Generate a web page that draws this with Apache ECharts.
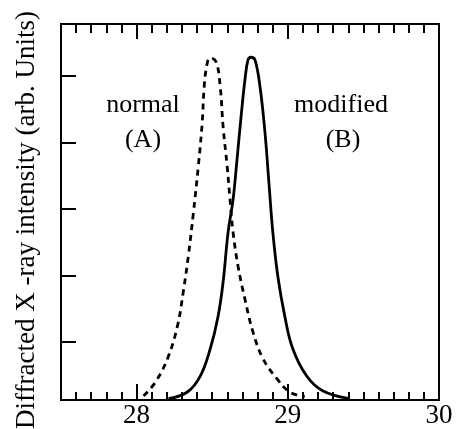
<!DOCTYPE html>
<html>
<head>
<meta charset="utf-8">
<script src="https://cdn.jsdelivr.net/npm/echarts@6/dist/echarts.min.js"></script>
<style>html,body{margin:0;padding:0;background:#fff}#c{width:459px;height:429px}</style>
</head>
<body>
<div id="c"></div>
<script>
// Curve A (normal, dashed): [2theta, intensity]
const normalA = [
  [28.046,0.19],[28.125,0.40],[28.204,0.75],[28.270,1.24],[28.309,1.76],[28.342,2.29],
  [28.375,2.93],[28.408,3.64],[28.434,4.30],[28.447,4.84],[28.467,5.19],[28.487,5.27],
  [28.526,5.21],[28.553,4.84],[28.572,4.24],[28.599,3.64],[28.618,3.14],[28.638,2.65],
  [28.671,2.14],[28.717,1.64],[28.770,1.15],[28.836,0.75],[28.928,0.45],[29.013,0.25],[29.112,0.18]
];
// Curve B (modified, solid)
const modifiedB = [
  [28.211,0.15],[28.336,0.25],[28.421,0.49],[28.487,0.90],[28.539,1.39],[28.572,1.90],
  [28.605,2.65],[28.638,3.14],[28.664,3.74],[28.691,4.39],[28.717,4.95],[28.737,5.24],
  [28.757,5.28],[28.783,5.24],[28.816,4.84],[28.849,4.15],[28.875,3.40],[28.901,2.65],
  [28.934,1.99],[28.980,1.39],[29.033,0.90],[29.125,0.49],[29.230,0.27],[29.408,0.15]
];
const xLabels = [28, 29, 30];
const xMajorTicks = [28, 29];
const xMinorTicks = [27.6,27.7,27.8,27.9,28.1,28.2,28.3,28.4,28.5,28.6,28.7,28.8,28.9,29.1,29.2,29.3,29.4,29.5,29.6,29.7,29.8,29.9];
const yTicks = [1, 2, 3, 4, 5];
const yTitle = 'Diffracted X -ray intensity (arb. Units)';
const annotations = [
  {text: 'normal', x: 143, y: 105},
  {text: '(A)', x: 143, y: 140},
  {text: 'modified', x: 341, y: 105},
  {text: '(B)', x: 343, y: 140}
];

const FONT = '"Liberation Serif", "Times New Roman", serif';
const X_MIN = 27.5, X_MAX = 30, Y_MIN = 0.13, Y_MAX = 5.78;

function xAx(pos, ticks, len, labels) {
  return {
    type: 'value', position: pos, min: X_MIN, max: X_MAX,
    axisLine: {show: labels, lineStyle: {color: '#000', width: 2}},
    axisTick: {show: true, inside: true, length: len, customValues: ticks, lineStyle: {color: '#000', width: 2}},
    axisLabel: labels ? {show: true, customValues: xLabels, color: '#000', fontFamily: FONT, fontSize: 27, margin: 2} : {show: false},
    splitLine: {show: false}
  };
}

const chart = echarts.init(document.getElementById('c'), null, {renderer: 'canvas'});
chart.setOption({
  animation: false,
  backgroundColor: '#fff',
  grid: {left: 61, right: 20, top: 24, bottom: 28, show: true, borderColor: '#000', borderWidth: 2, backgroundColor: 'transparent'},
  xAxis: [
    xAx('bottom', xMinorTicks, 8, true),
    xAx('bottom', xMajorTicks, 16, false),
    xAx('top', xMinorTicks, 9, false),
    xAx('top', xMajorTicks, 15, false)
  ],
  yAxis: {
    type: 'value', min: Y_MIN, max: Y_MAX,
    axisLine: {show: true, lineStyle: {color: '#000', width: 2}},
    axisTick: {show: true, inside: true, length: 15, customValues: yTicks, lineStyle: {color: '#000', width: 2}},
    axisLabel: {show: false},
    splitLine: {show: false}
  },
  series: [
    {type: 'line', name: 'normal (A)', data: normalA, smooth: 0.4, showSymbol: false,
     lineStyle: {color: '#000', width: 2.8, type: [6, 5]}},
    {type: 'line', name: 'modified (B)', data: modifiedB, smooth: 0.4, showSymbol: false,
     lineStyle: {color: '#000', width: 2.8}}
  ],
  graphic: annotations.map(a => ({
    type: 'text', x: a.x, y: a.y,
    style: {text: a.text, fill: '#000', font: '26px ' + FONT, textAlign: 'center', textVerticalAlign: 'middle'}
  })).concat([{
    type: 'text', x: 27, y: 220, rotation: Math.PI / 2,
    style: {text: yTitle, fill: '#000', font: '27px ' + FONT, textAlign: 'center', textVerticalAlign: 'middle'}
  }])
});
</script>
</body>
</html>
